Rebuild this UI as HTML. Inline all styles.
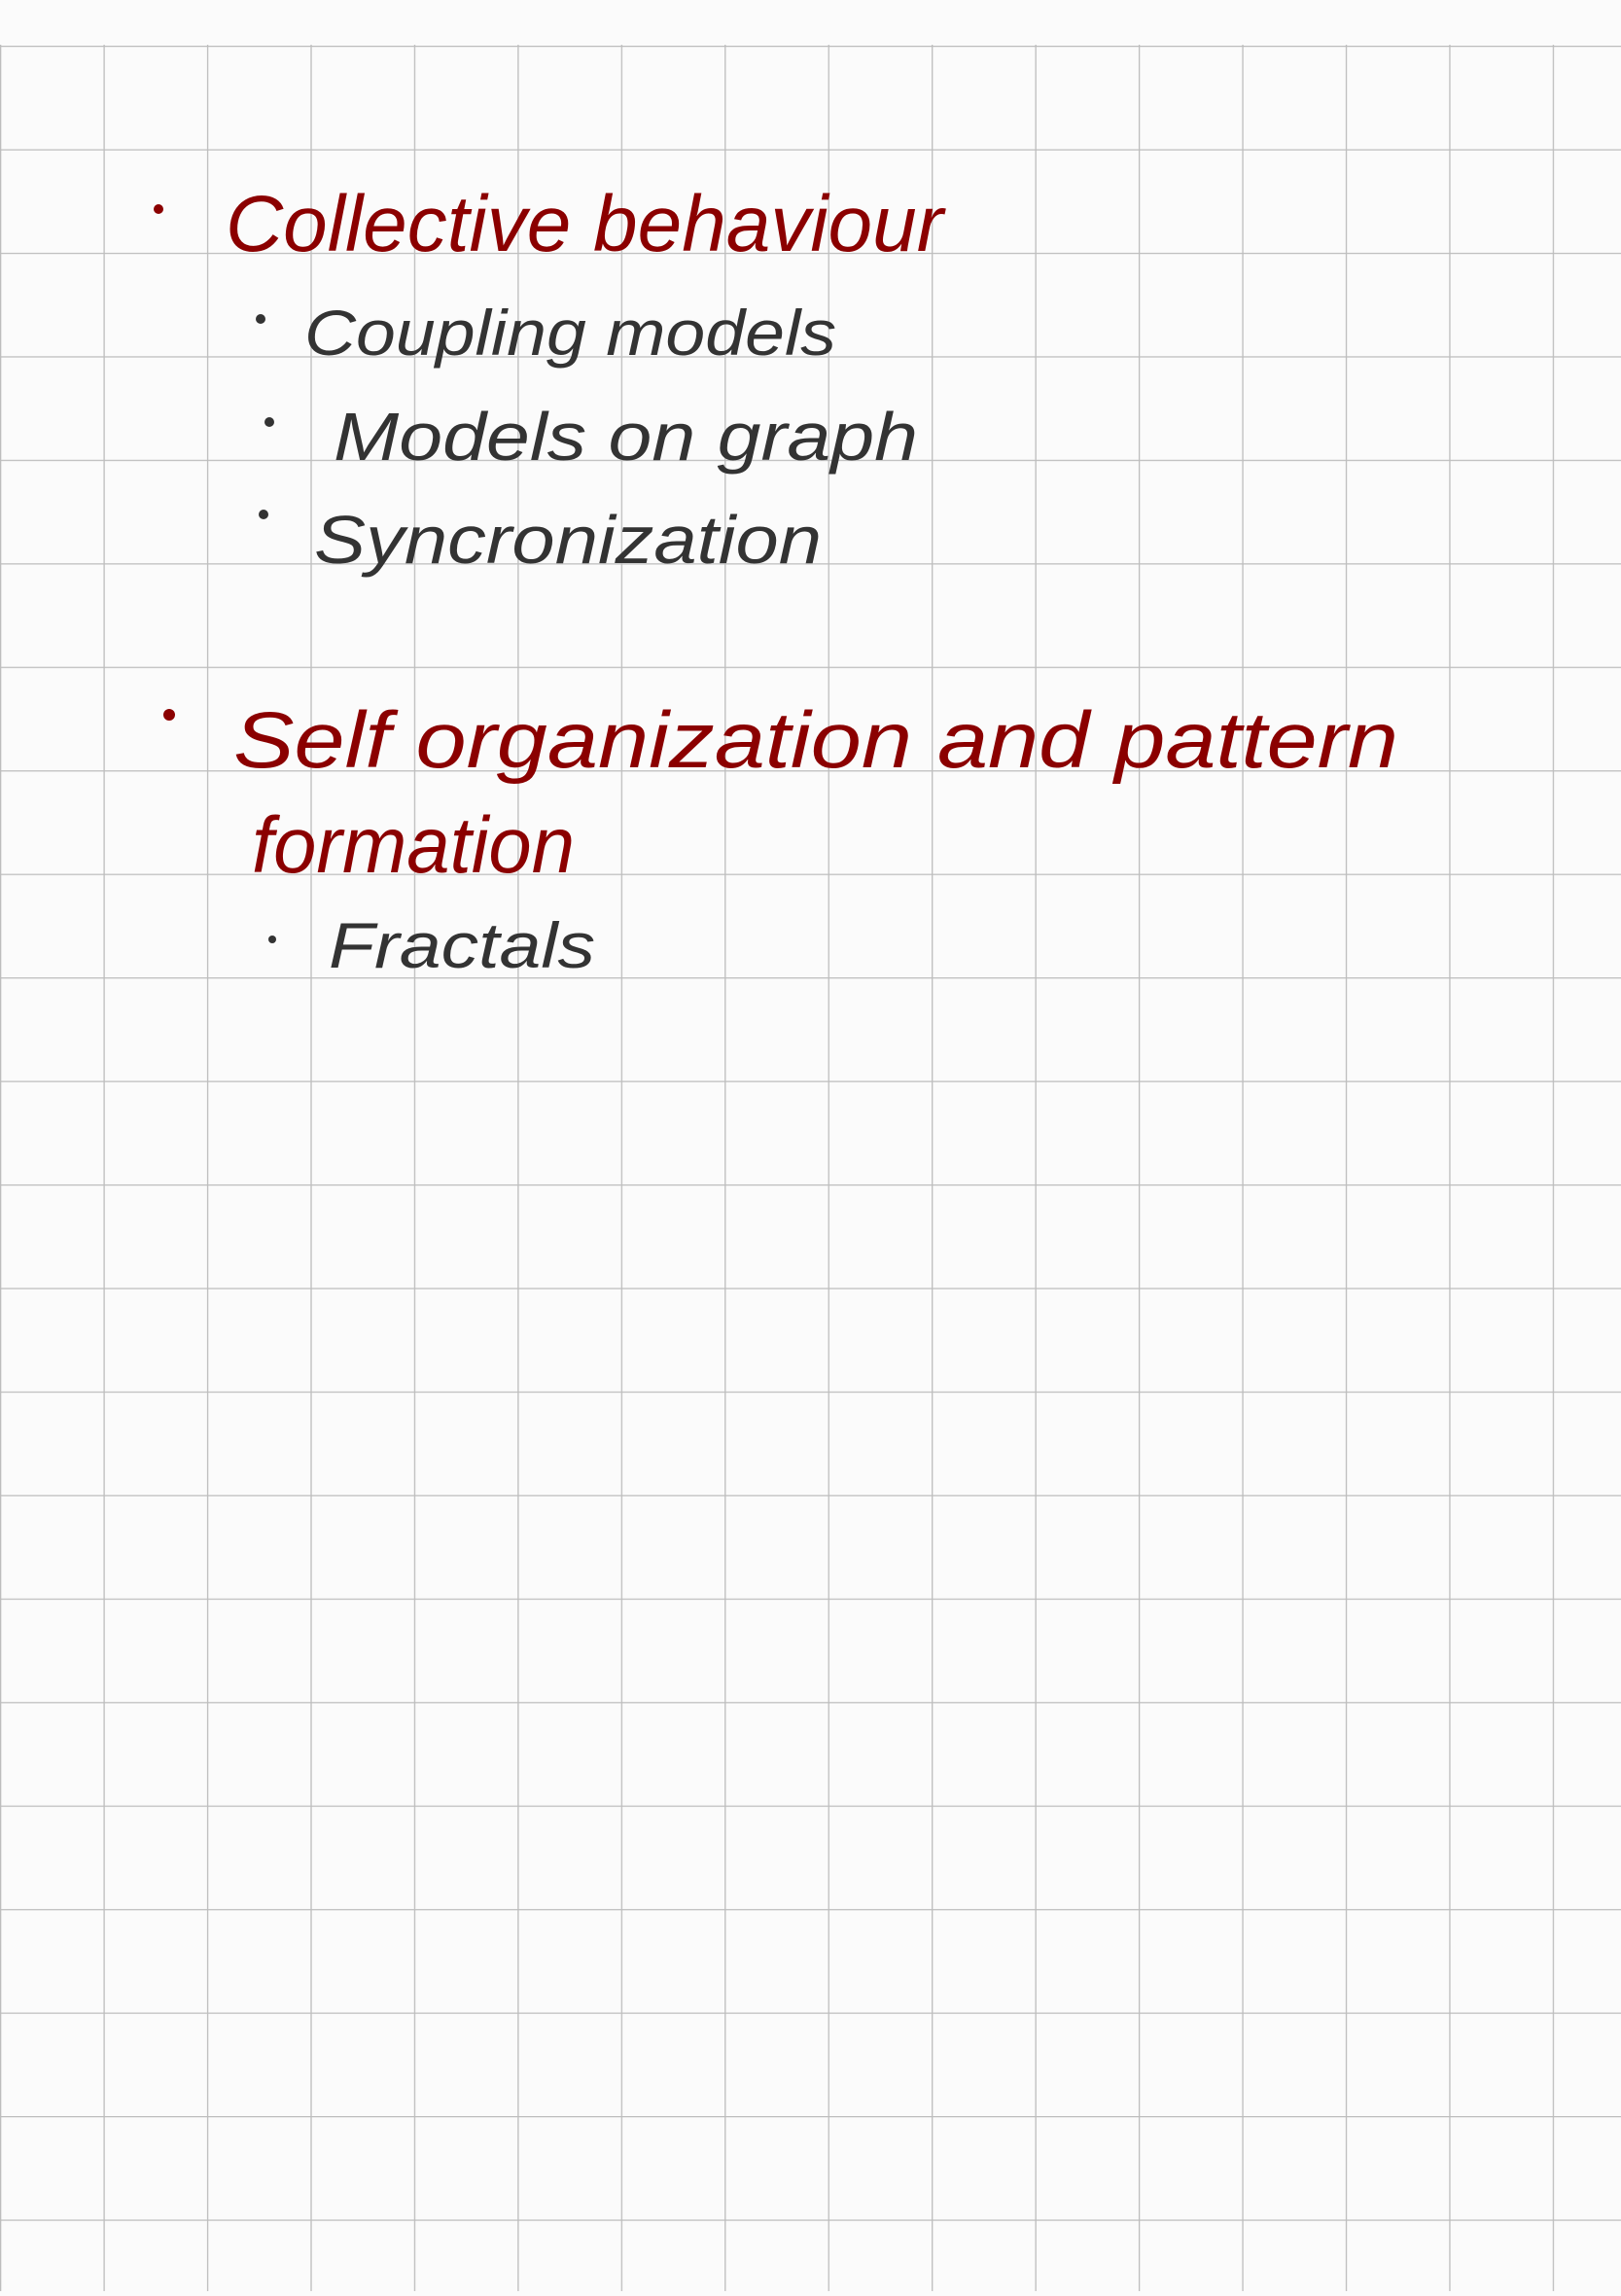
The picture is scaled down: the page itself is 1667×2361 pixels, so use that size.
<!DOCTYPE html>
<html><head><meta charset="utf-8"><style>html,body{margin:0;padding:0;background:#fbfbfb}</style></head>
<body>
<svg width="1667" height="2356" xmlns="http://www.w3.org/2000/svg">
<defs>
<pattern id="g" x="0" y="47" width="106.45" height="106.45" patternUnits="userSpaceOnUse">
<path d="M0.5 0 V106.45 M0 0.5 H106.45" stroke="#bdbdbd" stroke-width="1.6" fill="none"/>
</pattern>
</defs>
<rect width="1667" height="2356" fill="#fbfbfb"/>
<rect x="0" y="46" width="1667" height="2310" fill="url(#g)"/>
<g font-family="Liberation Sans, sans-serif" font-style="italic">
<circle cx="163" cy="215" r="5" fill="#8b0000"/>
<text x="232" y="258" font-size="82" fill="#8b0000" textLength="738" lengthAdjust="spacingAndGlyphs">Collective behaviour</text>
<circle cx="268" cy="328" r="5" fill="#333"/>
<text x="313" y="365" font-size="66" fill="#333" textLength="547" lengthAdjust="spacingAndGlyphs">Coupling models</text>
<circle cx="277" cy="434" r="5" fill="#333"/>
<text x="343" y="473" font-size="70" fill="#333" textLength="601" lengthAdjust="spacingAndGlyphs">Models on graph</text>
<circle cx="271" cy="529" r="5" fill="#333"/>
<text x="323" y="579" font-size="70" fill="#333" textLength="522" lengthAdjust="spacingAndGlyphs">Syncronization</text>
<circle cx="174" cy="735" r="6" fill="#8b0000"/>
<text x="240" y="789" font-size="82" fill="#8b0000" textLength="1198" lengthAdjust="spacingAndGlyphs">Self organization and pattern</text>
<text x="259" y="897" font-size="82" fill="#8b0000" textLength="332" lengthAdjust="spacingAndGlyphs">formation</text>
<circle cx="280" cy="966" r="4" fill="#333"/>
<text x="338" y="995" font-size="66" fill="#333" textLength="274" lengthAdjust="spacingAndGlyphs">Fractals</text>
</g>
</svg>
</body></html>
